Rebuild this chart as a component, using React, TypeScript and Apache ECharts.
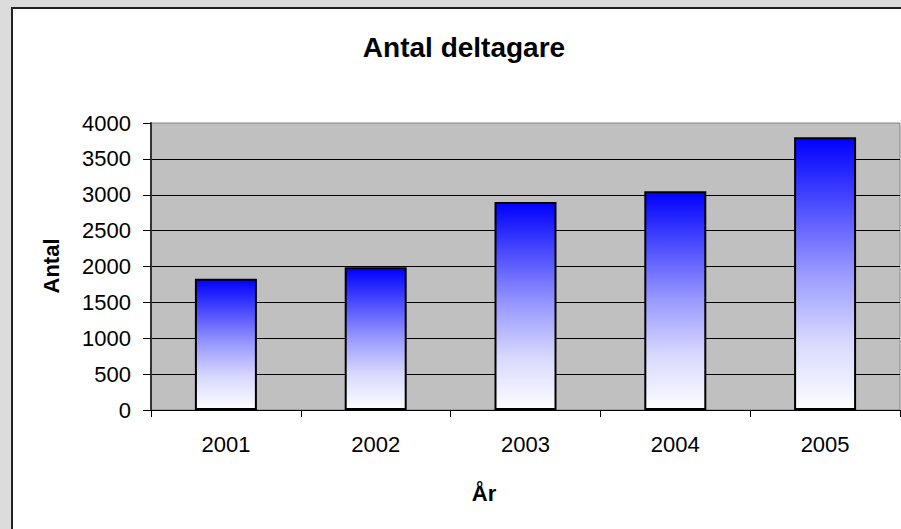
import React, { useEffect, useRef } from "react";
import * as echarts from "echarts";

const TITLE = "Antal deltagare";
const X_NAME = "År";
const Y_NAME = "Antal";
const years = ["2001", "2002", "2003", "2004", "2005"];
const participants = [1830, 1990, 2900, 3050, 3800];

const FONT = "'Liberation Sans', Arial, Helvetica, sans-serif";

export default function App() {
  const ref = useRef<HTMLDivElement>(null);
  useEffect(() => {
    if (!ref.current) return;
    const chart = echarts.init(ref.current, null, { renderer: "svg" });
    const barGradient = new echarts.graphic.LinearGradient(0, 0, 0, 1, [
      { offset: 0, color: "#0000ff" },
      { offset: 0.25, color: "#4e4eff" },
      { offset: 0.5, color: "#9a9aff" },
      { offset: 0.75, color: "#d8d8ff" },
      { offset: 1, color: "#fdfdff" },
    ]);
    chart.setOption({
      animation: false,
      backgroundColor: "#dcdcdc",
      textStyle: { fontFamily: FONT },
      graphic: [
        {
          type: "rect",
          z: -10,
          shape: { x: 12, y: 8, width: 1000, height: 1000 },
          style: { fill: "#ffffff", stroke: "#222222", lineWidth: 2 },
        },
        {
          type: "text",
          x: 464,
          y: 47,
          style: {
            text: TITLE,
            font: `bold 28px ${FONT}`,
            fill: "#000",
            align: "center",
            verticalAlign: "middle",
          },
        },
        {
          type: "text",
          x: 484,
          y: 493,
          style: {
            text: X_NAME,
            font: `bold 22px ${FONT}`,
            fill: "#000",
            align: "center",
            verticalAlign: "middle",
          },
        },
        {
          type: "text",
          x: 51,
          y: 266,
          rotation: Math.PI / 2,
          style: {
            text: Y_NAME,
            font: `bold 22px ${FONT}`,
            fill: "#000",
            align: "center",
            verticalAlign: "middle",
          },
        },
      ],
      grid: {
        left: 151,
        top: 123,
        width: 749,
        height: 287,
        show: true,
        backgroundColor: "#c0c0c0",
        borderColor: "#808080",
        borderWidth: 1,
      },
      xAxis: {
        type: "category",
        data: years,
        boundaryGap: true,
        axisLine: { show: true, lineStyle: { color: "#000", width: 1 } },
        axisTick: { show: true, length: 7, alignWithLabel: false, lineStyle: { color: "#000" } },
        axisLabel: { color: "#000", fontSize: 22, margin: 23, fontFamily: FONT },
        splitLine: { show: false },
      },
      yAxis: {
        type: "value",
        min: 0,
        max: 4000,
        interval: 500,
        axisLine: { show: true, lineStyle: { color: "#333", width: 2 } },
        axisTick: { show: true, length: 8, lineStyle: { color: "#000" } },
        axisLabel: {
          color: "#000",
          fontSize: 22,
          margin: 20,
          fontFamily: FONT,
          formatter: (v: number) => String(v),
        },
        splitLine: {
          show: true,
          showMinLine: false,
          showMaxLine: false,
          lineStyle: { color: "#000", width: 1 },
        },
      },
      series: [
        {
          type: "bar",
          data: participants,
          barWidth: 62,
          itemStyle: {
            color: barGradient,
            borderColor: "#000",
            borderWidth: 2,
          },
        },
      ],
    });
    return () => chart.dispose();
  }, []);
  return (
    <div
      ref={ref}
      style={{ position: "fixed", left: 0, top: 0, width: 901, height: 529 }}
    />
  );
}
